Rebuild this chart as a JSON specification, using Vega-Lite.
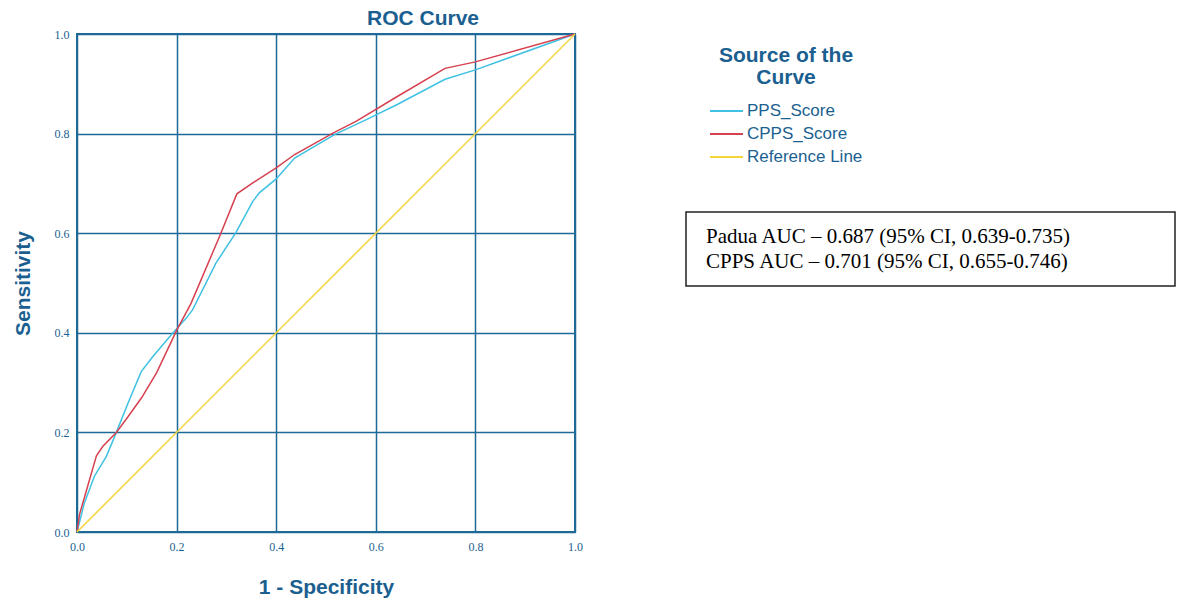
{
  "$schema": "https://vega.github.io/schema/vega-lite/v6.json",
  "autosize": "none",
  "width": 498,
  "height": 498,
  "padding": {"left": 77, "top": 34, "right": 605, "bottom": 68},
  "background": "white",
  "title": {"text": "ROC Curve", "anchor": "middle", "dx": 97, "offset": -1, "fontSize": 21, "font": "Liberation Sans", "fontWeight": "bold", "color": "#1b5f90"},
  "datasets": {
    "roc": [
      {"fpr": 0, "tpr": 0, "source": "PPS_Score"},
      {"fpr": 0.015, "tpr": 0.059, "source": "PPS_Score"},
      {"fpr": 0.035, "tpr": 0.112, "source": "PPS_Score"},
      {"fpr": 0.059, "tpr": 0.152, "source": "PPS_Score"},
      {"fpr": 0.079, "tpr": 0.2, "source": "PPS_Score"},
      {"fpr": 0.105, "tpr": 0.265, "source": "PPS_Score"},
      {"fpr": 0.129, "tpr": 0.322, "source": "PPS_Score"},
      {"fpr": 0.152, "tpr": 0.352, "source": "PPS_Score"},
      {"fpr": 0.192, "tpr": 0.399, "source": "PPS_Score"},
      {"fpr": 0.219, "tpr": 0.429, "source": "PPS_Score"},
      {"fpr": 0.232, "tpr": 0.446, "source": "PPS_Score"},
      {"fpr": 0.279, "tpr": 0.54, "source": "PPS_Score"},
      {"fpr": 0.319, "tpr": 0.601, "source": "PPS_Score"},
      {"fpr": 0.353, "tpr": 0.664, "source": "PPS_Score"},
      {"fpr": 0.366, "tpr": 0.681, "source": "PPS_Score"},
      {"fpr": 0.4, "tpr": 0.709, "source": "PPS_Score"},
      {"fpr": 0.437, "tpr": 0.751, "source": "PPS_Score"},
      {"fpr": 0.517, "tpr": 0.798, "source": "PPS_Score"},
      {"fpr": 0.581, "tpr": 0.828, "source": "PPS_Score"},
      {"fpr": 0.644, "tpr": 0.859, "source": "PPS_Score"},
      {"fpr": 0.739, "tpr": 0.909, "source": "PPS_Score"},
      {"fpr": 0.8, "tpr": 0.928, "source": "PPS_Score"},
      {"fpr": 1, "tpr": 1, "source": "PPS_Score"},
      {"fpr": 0, "tpr": 0, "source": "CPPS_Score"},
      {"fpr": 0.005, "tpr": 0.035, "source": "CPPS_Score"},
      {"fpr": 0.039, "tpr": 0.153, "source": "CPPS_Score"},
      {"fpr": 0.052, "tpr": 0.172, "source": "CPPS_Score"},
      {"fpr": 0.079, "tpr": 0.2, "source": "CPPS_Score"},
      {"fpr": 0.102, "tpr": 0.231, "source": "CPPS_Score"},
      {"fpr": 0.13, "tpr": 0.27, "source": "CPPS_Score"},
      {"fpr": 0.16, "tpr": 0.32, "source": "CPPS_Score"},
      {"fpr": 0.2, "tpr": 0.405, "source": "CPPS_Score"},
      {"fpr": 0.229, "tpr": 0.459, "source": "CPPS_Score"},
      {"fpr": 0.286, "tpr": 0.593, "source": "CPPS_Score"},
      {"fpr": 0.321, "tpr": 0.679, "source": "CPPS_Score"},
      {"fpr": 0.353, "tpr": 0.701, "source": "CPPS_Score"},
      {"fpr": 0.4, "tpr": 0.731, "source": "CPPS_Score"},
      {"fpr": 0.437, "tpr": 0.758, "source": "CPPS_Score"},
      {"fpr": 0.514, "tpr": 0.801, "source": "CPPS_Score"},
      {"fpr": 0.561, "tpr": 0.825, "source": "CPPS_Score"},
      {"fpr": 0.644, "tpr": 0.875, "source": "CPPS_Score"},
      {"fpr": 0.739, "tpr": 0.931, "source": "CPPS_Score"},
      {"fpr": 0.8, "tpr": 0.944, "source": "CPPS_Score"},
      {"fpr": 1, "tpr": 1, "source": "CPPS_Score"},
      {"fpr": 0, "tpr": 0, "source": "Reference Line"},
      {"fpr": 1, "tpr": 1, "source": "Reference Line"}
    ],
    "auc": [
      {"label": "Padua AUC – 0.687 (95% CI, 0.639-0.735)"},
      {"label": "CPPS AUC – 0.701 (95% CI, 0.655-0.746)"}
    ]
  },
  "layer": [
    {
      "data": {"name": "roc"},
      "mark": {"type": "line", "strokeWidth": 1.5},
      "encoding": {
        "x": {"field": "fpr", "type": "quantitative", "scale": {"domain": [0, 1], "nice": false, "zero": false},
              "axis": {"title": "1 - Specificity", "values": [0, 0.2, 0.4, 0.6, 0.8, 1], "format": ".1f", "labelPadding": 9, "titlePadding": 24}},
        "y": {"field": "tpr", "type": "quantitative", "scale": {"domain": [0, 1], "nice": false, "zero": false},
              "axis": {"title": "Sensitivity", "values": [0, 0.2, 0.4, 0.6, 0.8, 1], "format": ".1f", "labelPadding": 8, "titlePadding": 21}},
        "color": {"field": "source", "type": "nominal",
                  "scale": {"domain": ["PPS_Score", "CPPS_Score", "Reference Line"], "range": ["#3ec1e3", "#d6404f", "#f6d53b"]},
                  "legend": {"orient": "none", "legendX": 632, "legendY": 11, "title": ["Source of the", "Curve"],
                             "titleFontSize": 21, "titleFont": "Liberation Sans", "titleFontWeight": "bold", "titleColor": "#1b5f90",
                             "titleAnchor": "middle", "titleAlign": "center", "titleLineHeight": 22, "titlePadding": 15,
                             "labelFont": "Liberation Sans", "labelFontSize": 17, "labelColor": "#1b5f90",
                             "symbolType": "stroke", "symbolSize": 1089, "symbolStrokeWidth": 2, "labelOffset": 3,
                             "clipHeight": 16, "rowPadding": 6, "padding": 0}},
        "order": {"field": "fpr", "type": "quantitative"}
      }
    },
    {
      "data": {"name": "auc"},
      "mark": {"type": "point", "opacity": 0},
      "encoding": {
        "shape": {"field": "label", "type": "nominal",
                  "scale": {"domain": ["Padua AUC – 0.687 (95% CI, 0.639-0.735)", "CPPS AUC – 0.701 (95% CI, 0.655-0.746)"]},
                  "legend": {"orient": "none", "legendX": 609, "legendY": 178, "title": null, "padding": 14,
                             "strokeColor": "#222222", "labelFont": "Liberation Serif", "labelFontSize": 21, "labelColor": "#000000",
                             "labelLimit": 0, "symbolSize": 1, "symbolOpacity": 0, "symbolStrokeWidth": 0, "symbolOffset": 450,
                             "labelOffset": -465, "rowPadding": 3}}
      }
    }
  ],
  "config": {
    "view": {"stroke": "#1d6a98", "strokeWidth": 2},
    "axis": {"grid": true, "gridColor": "#1d6a98", "gridWidth": 1.5, "gridOpacity": 1, "domain": false, "ticks": false, "tickSize": 0,
             "labelFont": "Liberation Serif", "labelFontSize": 12, "labelColor": "#1b5f90", "labelFlush": false, "labelOverlap": false,
             "titleFont": "Liberation Sans", "titleFontSize": 21, "titleFontWeight": "bold", "titleColor": "#1b5f90"},
    "legend": {"strokeWidth": 1.5}
  }
}
